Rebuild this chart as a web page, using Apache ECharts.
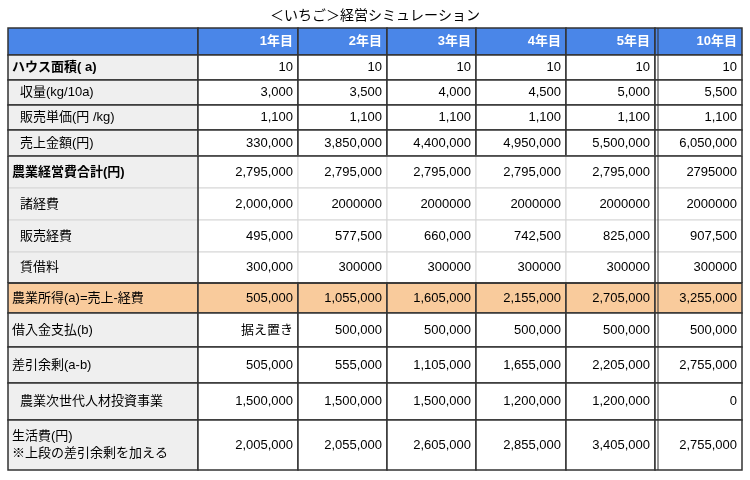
<!DOCTYPE html>
<html>
<head>
<meta charset="utf-8">
<script src="https://cdn.jsdelivr.net/npm/echarts@6/dist/echarts.min.js"></script>
<style>body{margin:0;background:#fff}#main{width:750px;height:480px}</style>
</head>
<body>
<div id="main"></div>
<script>
// data
var years = ['1年目', '2年目', '3年目', '4年目', '5年目', '10年目'];
var rowLabels = ['ハウス面積( a)', '収量(kg/10a)', '販売単価(円 /kg)', '売上金額(円)', '農業経営費合計(円)', '諸経費', '販売経費', '賃借料',
    '農業所得(a)=売上-経費', '借入金支払(b)', '差引余剰(a-b)', '農業次世代人材投資事業', '生活費(円)\n※上段の差引余剰を加える'];
var area      = ['10', '10', '10', '10', '10', '10'];
var yieldKg   = ['3,000', '3,500', '4,000', '4,500', '5,000', '5,500'];
var unitPrice = ['1,100', '1,100', '1,100', '1,100', '1,100', '1,100'];
var sales     = ['330,000', '3,850,000', '4,400,000', '4,950,000', '5,500,000', '6,050,000'];
var costTotal = ['2,795,000', '2,795,000', '2,795,000', '2,795,000', '2,795,000', '2795000'];
var misc      = ['2,000,000', '2000000', '2000000', '2000000', '2000000', '2000000'];
var salesCost = ['495,000', '577,500', '660,000', '742,500', '825,000', '907,500'];
var rent      = ['300,000', '300000', '300000', '300000', '300000', '300000'];
var income    = ['505,000', '1,055,000', '1,605,000', '2,155,000', '2,705,000', '3,255,000'];
var loan      = ['据え置き', '500,000', '500,000', '500,000', '500,000', '500,000'];
var surplus   = ['505,000', '555,000', '1,105,000', '1,655,000', '2,205,000', '2,755,000'];
var subsidy   = ['1,500,000', '1,500,000', '1,500,000', '1,200,000', '1,200,000', '0'];
var living    = ['2,005,000', '2,055,000', '2,605,000', '2,855,000', '3,405,000', '2,755,000'];
var rowValues = [area, yieldKg, unitPrice, sales, costTotal, misc, salesCost, rent, income, loan, surplus, subsidy, living];

// layout
var colEdges = [0, 190, 290, 379, 468, 558, 647, 734];
var rowEdges = [0, 27, 52, 77, 102, 128, 160, 192, 224, 255, 285, 319, 355, 392, 442];
var indented = [1, 2, 3, 5, 6, 7, 11];
var boldRows = [0, 4];
var expenseRows = [4, 5, 6, 7];

var cells = [];
cells.push([0, 0, '', 'h']);
years.forEach(function (y, i) { cells.push([i + 1, 0, y, 'h']); });
rowLabels.forEach(function (lab, r) {
    cells.push([0, r + 1, lab, 'l']);
    rowValues[r].forEach(function (v, c) { cells.push([c + 1, r + 1, v, 'v']); });
});

var chart = echarts.init(document.getElementById('main'));
var FONT = '"Liberation Sans", "Noto Sans CJK JP", sans-serif';

function renderCell(params, api) {
    var c = api.value(0), r = api.value(1);
    var cell = cells[params.dataIndex];
    var kind = cell[3];
    var p0 = api.coord([colEdges[c], rowEdges[r]]);
    var p1 = api.coord([colEdges[c + 1], rowEdges[r + 1]]);
    var dr = r - 1;
    var fill = '#fff';
    if (kind === 'h') fill = '#4a86e8';
    else if (dr === 8) fill = '#f9cb9c';
    else if (kind === 'l') fill = '#efefef';
    var light = expenseRows.indexOf(dr) >= 0;
    var children = [{
        type: 'rect',
        shape: {x: p0[0], y: p0[1], width: p1[0] - p0[0], height: p1[1] - p0[1]},
        style: {fill: fill, stroke: light ? '#d6d6d6' : '#333', lineWidth: light ? 1 : 1.5}
    }];
    var isLeft = kind === 'l';
    var pad = isLeft ? (indented.indexOf(dr) >= 0 ? 12 : 4) : 5;
    children.push({
        type: 'text',
        style: {
            text: cell[2],
            x: isLeft ? p0[0] + pad : p1[0] - pad,
            y: (p0[1] + p1[1]) / 2,
            align: isLeft ? 'left' : 'right',
            verticalAlign: 'middle',
            fill: kind === 'h' ? '#fff' : '#000',
            font: ((kind === 'h' || (isLeft && boldRows.indexOf(dr) >= 0)) ? 'bold ' : '') + '13px ' + FONT,
            lineHeight: 17
        }
    });
    return {type: 'group', children: children};
}

// dark section lines drawn over the light expense block
var frameLines = [[0], [1], [6], [7]];
function renderFrame(params, api) {
    var ci = api.value(0);
    var top = api.coord([colEdges[ci], rowEdges[5]]);
    var bot = api.coord([colEdges[ci], rowEdges[9]]);
    var kids = [{type: 'line', shape: {x1: top[0], y1: top[1], x2: bot[0], y2: bot[1]}, style: {stroke: '#333', lineWidth: 1.5}}];
    if (ci === 6) {
        kids.push({type: 'line', shape: {x1: top[0] + 3, y1: api.coord([0, rowEdges[0]])[1], x2: top[0] + 3, y2: api.coord([0, rowEdges[14]])[1]}, style: {stroke: '#333', lineWidth: 1}});
    }
    if (ci === 0) {
        var r = api.coord([colEdges[7], rowEdges[5]]);
        var rb = api.coord([colEdges[7], rowEdges[9]]);
        kids.push({type: 'line', shape: {x1: top[0], y1: top[1], x2: r[0], y2: r[1]}, style: {stroke: '#333', lineWidth: 1.5}});
        kids.push({type: 'line', shape: {x1: bot[0], y1: bot[1], x2: rb[0], y2: rb[1]}, style: {stroke: '#333', lineWidth: 1.5}});
    }
    return {type: 'group', children: kids};
}

chart.setOption({
    animation: false,
    title: {
        text: '＜いちご＞経営シミュレーション', left: 'center', top: 4,
        textStyle: {fontSize: 14, fontWeight: 'normal', color: '#000', fontFamily: FONT}
    },
    grid: {left: 8, right: 8, top: 28, bottom: 10},
    xAxis: {type: 'value', min: 0, max: 734, show: false},
    yAxis: {type: 'value', min: 0, max: 442, inverse: true, show: false},
    series: [
        {type: 'custom', renderItem: renderCell, data: cells.map(function (d) { return [d[0], d[1]]; }), silent: true},
        {type: 'custom', renderItem: renderFrame, data: frameLines, silent: true, z: 3}
    ]
});
</script>
</body>
</html>
